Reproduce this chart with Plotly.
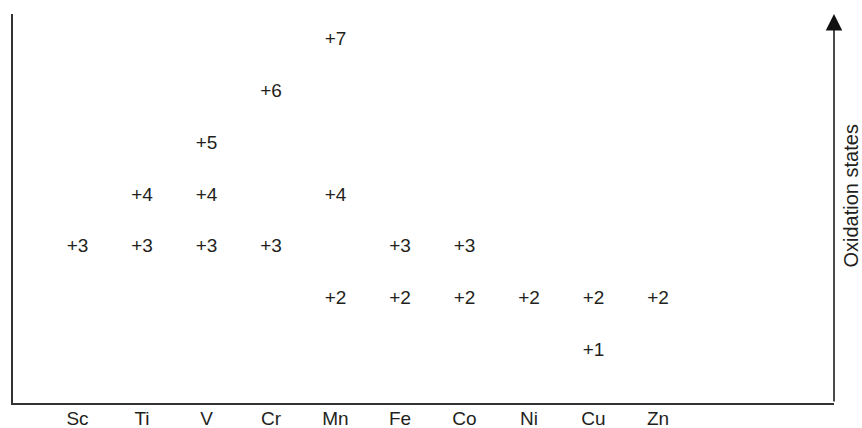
import plotly.graph_objects as go

elements = ["Sc", "Ti", "V", "Cr", "Mn", "Fe", "Co", "Ni", "Cu", "Zn"]
states = [
    [3],
    [3, 4],
    [3, 4, 5],
    [3, 6],
    [2, 4, 7],
    [2, 3],
    [2, 3],
    [2],
    [1, 2],
    [2],
]
axis_title = "Oxidation states"

xs, ys, labels = [], [], []
for i, st in enumerate(states):
    for s in st:
        xs.append(i)
        ys.append(s)
        labels.append(f"+{s}")

FONT = "Liberation Sans, Arial, Helvetica, sans-serif"
INK = "#231f20"
LINE = "#333333"

fig = go.Figure()
fig.add_trace(go.Scatter(
    x=xs, y=ys, text=labels, mode="text",
    textposition="middle center",
    textfont=dict(family=FONT, size=19, color=INK),
    hoverinfo="skip", showlegend=False, cliponaxis=False,
))

XMAX = 11.729
YMAX = 7.51

fig.update_layout(
    width=862, height=428,
    margin=dict(l=13, r=28, t=14, b=25, autoexpand=False),
    paper_bgcolor="white", plot_bgcolor="white",
    xaxis=dict(
        range=[-1.0, XMAX], showgrid=False, zeroline=False, automargin=False,
        showline=True, linecolor=LINE, linewidth=2,
        tickmode="array", tickvals=list(range(len(elements))), ticktext=elements,
        ticks="", ticklabelstandoff=-3,
        tickfont=dict(family=FONT, size=19, color=INK),
        fixedrange=True,
    ),
    yaxis=dict(
        range=[0, YMAX], showgrid=False, zeroline=False, automargin=False,
        showline=True, linecolor=LINE, linewidth=2,
        showticklabels=False, ticks="", fixedrange=True,
    ),
    annotations=[
        dict(
            x=XMAX, y=YMAX, xref="x", yref="y",
            ax=XMAX, ay=0, axref="x", ayref="y",
            text="", showarrow=True, arrowhead=2, arrowsize=2.2,
            arrowwidth=1.5, arrowcolor="#111111",
        ),
        dict(
            x=1.0207, y=0.5334, xref="paper", yref="paper",
            text=axis_title, textangle=-90, showarrow=False,
            xanchor="center", yanchor="middle",
            font=dict(family=FONT, size=20, color=INK),
        ),
    ],
)

fig.write_html(
    "out.html",
    config={"displayModeBar": False},
    post_script="document.body.style.margin='0';document.body.style.overflow='hidden';",
)
